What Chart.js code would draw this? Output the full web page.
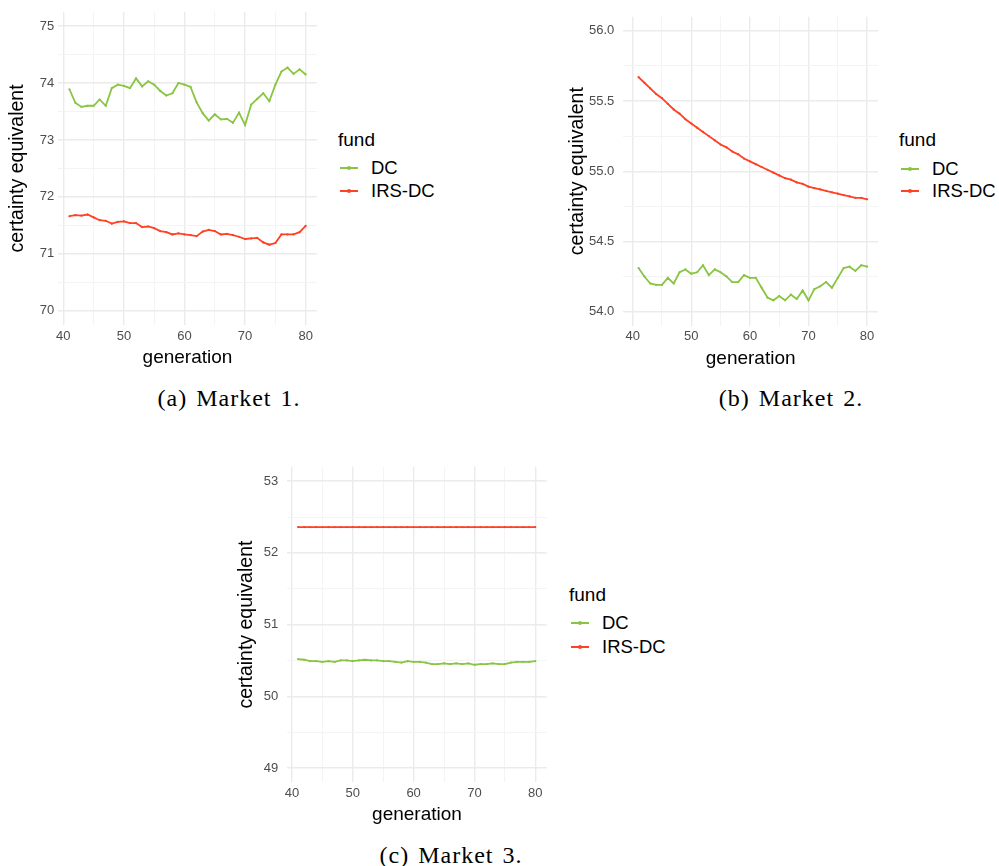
<!DOCTYPE html>
<html>
<head>
<meta charset="utf-8">
<script src="https://cdn.jsdelivr.net/npm/chart.js@4.4.1/dist/chart.umd.min.js"></script>
<style>
  body { margin: 0; background: #fff; width: 999px; height: 866px; position: relative; overflow: hidden;
         font-family: "Liberation Sans", Arial, sans-serif; }
  canvas { position: absolute; }
  .legend { position: absolute; color: #000; }
  .legend div { position: absolute; white-space: nowrap; line-height: 22px; height: 22px; }
  .legend .title { left: 0; font-size: 19px; }
  .legend .key { left: 2px; width: 18px; height: 2px; top: 10px; }
  .legend .key span { position: absolute; left: 7px; top: -1px; width: 4px; height: 4px; border-radius: 2px; }
  .legend .lbl { left: 33px; font-size: 18.5px; }
  .caption { position: absolute; font-family: "Liberation Serif", "Times New Roman", serif; font-size: 24px;
             letter-spacing: 1px; word-spacing: 2px;
             line-height: 26px; transform: translateX(-50%); white-space: nowrap; color: #000; }
</style>
</head>
<body>
<canvas id="m1" width="320" height="375" style="left:0px;top:0px;width:320px;height:375px"></canvas>
<canvas id="m2" width="320" height="375" style="left:560px;top:0px;width:320px;height:375px"></canvas>
<canvas id="m3" width="320" height="380" style="left:230px;top:450px;width:320px;height:380px"></canvas>
<div class="legend" id="lg1" style="left:338px;top:129px"></div>
<div class="legend" id="lg2" style="left:899px;top:129px"></div>
<div class="legend" id="lg3" style="left:569px;top:584px"></div>
<div class="caption" style="left:229px;top:385px">(a) Market 1.</div>
<div class="caption" style="left:791px;top:385px">(b) Market 2.</div>
<div class="caption" style="left:451px;top:842px">(c) Market 3.</div>
<script>
// generations on the x axis
const generation = [41, 42, 43, 44, 45, 46, 47, 48, 49, 50, 51, 52, 53, 54, 55, 56, 57, 58, 59, 60,
                    61, 62, 63, 64, 65, 66, 67, 68, 69, 70, 71, 72, 73, 74, 75, 76, 77, 78, 79, 80];

// Market 1
const dcMarket1 = [73.89, 73.65, 73.58, 73.60, 73.60, 73.71, 73.60, 73.91, 73.97, 73.95,
                   73.91, 74.08, 73.94, 74.03, 73.97, 73.86, 73.78, 73.82, 74.00, 73.97,
                   73.93, 73.66, 73.47, 73.34, 73.45, 73.36, 73.37, 73.30, 73.48, 73.26,
                   73.62, 73.72, 73.82, 73.68, 73.97, 74.20, 74.27, 74.16, 74.24, 74.15];
const irsMarket1 = [71.66, 71.68, 71.67, 71.69, 71.64, 71.59, 71.58, 71.53, 71.56, 71.57,
                    71.54, 71.54, 71.47, 71.48, 71.45, 71.40, 71.38, 71.34, 71.36, 71.34,
                    71.33, 71.31, 71.39, 71.42, 71.40, 71.34, 71.35, 71.33, 71.30, 71.26,
                    71.27, 71.28, 71.20, 71.16, 71.19, 71.34, 71.34, 71.34, 71.38, 71.49];

// Market 2
const dcMarket2 = [54.31, 54.25, 54.20, 54.19, 54.19, 54.24, 54.20, 54.28, 54.30, 54.27,
                   54.28, 54.33, 54.26, 54.30, 54.28, 54.25, 54.21, 54.21, 54.26, 54.24,
                   54.24, 54.17, 54.10, 54.08, 54.11, 54.08, 54.12, 54.09, 54.15, 54.08,
                   54.16, 54.18, 54.21, 54.17, 54.24, 54.31, 54.32, 54.29, 54.33, 54.32];
const irsMarket2 = [55.67, 55.63, 55.59, 55.55, 55.52, 55.48, 55.44, 55.41, 55.37, 55.34,
                    55.31, 55.28, 55.25, 55.22, 55.19, 55.17, 55.14, 55.12, 55.09, 55.07,
                    55.05, 55.03, 55.01, 54.99, 54.97, 54.95, 54.94, 54.92, 54.91, 54.89,
                    54.88, 54.87, 54.86, 54.85, 54.84, 54.83, 54.82, 54.81, 54.81, 54.80];

// Market 3
const dcMarket3 = [50.52, 50.51, 50.49, 50.49, 50.48, 50.49, 50.48, 50.50, 50.50, 50.49,
                   50.50, 50.51, 50.50, 50.50, 50.49, 50.49, 50.48, 50.47, 50.49, 50.48,
                   50.48, 50.47, 50.45, 50.45, 50.46, 50.45, 50.46, 50.45, 50.46, 50.44,
                   50.45, 50.45, 50.46, 50.45, 50.45, 50.47, 50.48, 50.48, 50.48, 50.49];
const irsMarket3 = [52.36, 52.36, 52.36, 52.36, 52.36, 52.36, 52.36, 52.36, 52.36, 52.36,
                    52.36, 52.36, 52.36, 52.36, 52.36, 52.36, 52.36, 52.36, 52.36, 52.36,
                    52.36, 52.36, 52.36, 52.36, 52.36, 52.36, 52.36, 52.36, 52.36, 52.36,
                    52.36, 52.36, 52.36, 52.36, 52.36, 52.36, 52.36, 52.36, 52.36, 52.36];

const seriesNames = ['DC', 'IRS-DC'];
const seriesColors = ['#88c540', '#ff4124'];

// tick / grid values
const xMajor = [40, 50, 60, 70, 80];
const xMinor = [45, 55, 65, 75];
const yMajor1 = [70, 71, 72, 73, 74, 75];
const yMinor1 = [70.5, 71.5, 72.5, 73.5, 74.5];
const yMajor2 = [54.0, 54.5, 55.0, 55.5, 56.0];
const yMinor2 = [54.25, 54.75, 55.25, 55.75];
const yMajor3 = [49, 50, 51, 52, 53];
const yMinor3 = [49.5, 50.5, 51.5, 52.5];

Chart.defaults.font.family = '"Liberation Sans", Arial, sans-serif';

const gridMajor = '#ebebeb';
const gridMinor = '#f4f4f4';

function drawMarket(cfg) {
  const datasets = [cfg.dc, cfg.irs].map((vals, k) => ({
    label: seriesNames[k],
    data: generation.map((g, i) => ({ x: g, y: vals[i] })),
    borderColor: seriesColors[k],
    backgroundColor: seriesColors[k],
    borderWidth: 1.8,
    pointRadius: 1.1,
    pointBorderWidth: 0,
    pointHoverRadius: 0,
    tension: 0
  }));
  const allTicks = (a, b) => a.concat(b).sort((p, q) => p - q).map(v => ({ value: v }));

  const chart = new Chart(document.getElementById(cfg.id), {
    type: 'line',
    data: { datasets },
    options: {
      responsive: false,
      animation: false,
      events: [],
      layout: { padding: { top: cfg.padTop, right: cfg.padRight, left: 0, bottom: 0 } },
      plugins: { legend: { display: false }, tooltip: { enabled: false } },
      scales: {
        x: {
          type: 'linear', min: cfg.xMin, max: cfg.xMax,
          afterBuildTicks: s => { s.ticks = allTicks(xMajor, xMinor); },
          afterFit: s => { s.height = cfg.xHeight; },
          border: { display: false },
          grid: {
            drawTicks: false,
            color: c => xMajor.includes(c.tick.value) ? gridMajor : gridMinor,
            lineWidth: c => xMajor.includes(c.tick.value) ? 1.4 : 1
          },
          ticks: {
            padding: cfg.xPad, color: '#4d4d4d', font: { size: 13 }, autoSkip: false, maxRotation: 0,
            callback: v => xMajor.includes(v) ? String(v) : ''
          },
          title: { display: true, text: 'generation', color: '#000', font: { size: 19 },
                   padding: { top: 0, bottom: cfg.xTitlePad } }
        },
        y: {
          min: cfg.yMin, max: cfg.yMax,
          afterBuildTicks: s => { s.ticks = allTicks(cfg.yMajor, cfg.yMinor); },
          afterFit: s => { s.width = cfg.yWidth; },
          border: { display: false },
          grid: {
            drawTicks: false,
            color: c => cfg.yMajor.includes(c.tick.value) ? gridMajor : gridMinor,
            lineWidth: c => cfg.yMajor.includes(c.tick.value) ? 1.4 : 1
          },
          ticks: {
            padding: cfg.yPad, color: '#4d4d4d', font: { size: 13 }, autoSkip: false,
            callback: v => cfg.yMajor.includes(v) ? v.toFixed(cfg.decimals) : ''
          },
          title: { display: true, text: 'certainty equivalent', color: '#000', font: { size: 19.5 },
                   padding: { top: cfg.yTitlePad, bottom: 0 } }
        }
      }
    }
  });

  // legend in ggplot style, built from the chart's datasets
  const lg = document.getElementById(cfg.legend);
  const t = document.createElement('div');
  t.className = 'title';
  t.style.top = '0px';
  t.textContent = 'fund';
  lg.appendChild(t);
  chart.data.datasets.forEach((ds, k) => {
    const top = cfg.legendRows[k];
    const key = document.createElement('div');
    key.className = 'key';
    key.style.top = (top + 10) + 'px';
    key.style.background = ds.borderColor;
    const dot = document.createElement('span');
    dot.style.background = ds.borderColor;
    key.appendChild(dot);
    const lbl = document.createElement('div');
    lbl.className = 'lbl';
    lbl.style.top = top + 'px';
    lbl.textContent = ds.label;
    lg.appendChild(key);
    lg.appendChild(lbl);
  });
}

drawMarket({ id: 'm1', legend: 'lg1', dc: dcMarket1, irs: irsMarket1,
  xMin: 39.17, xMax: 81.82, yMin: 69.75, yMax: 75.25, yMajor: yMajor1, yMinor: yMinor1, decimals: 0,
  padTop: 5, padRight: 3.3, xHeight: 50, yWidth: 58.3, xPad: 4, yPad: 4, xTitlePad: 6, yTitlePad: 6.4,
  legendRows: [28, 50.5] });

drawMarket({ id: 'm2', legend: 'lg2', dc: dcMarket2, irs: irsMarket2,
  xMin: 38.4, xMax: 81.86, yMin: 53.9, yMax: 56.1, yMajor: yMajor2, yMinor: yMinor2, decimals: 1,
  padTop: 4.4, padRight: 2, xHeight: 49.4, yWidth: 63.3, xPad: 3.5, yPad: 9, xTitlePad: 5.3, yTitlePad: 6.4,
  legendRows: [29, 51] });

drawMarket({ id: 'm3', legend: 'lg3', dc: dcMarket3, irs: irsMarket3,
  xMin: 39.23, xMax: 81.88, yMin: 48.8, yMax: 53.2, yMajor: yMajor3, yMinor: yMinor3, decimals: 0,
  padTop: 9.6, padRight: 3.3, xHeight: 47.6, yWidth: 57.3, xPad: 3, yPad: 9, xTitlePad: 3.6, yTitlePad: 5.4,
  legendRows: [28.3, 51.7] });
</script>
</body>
</html>
